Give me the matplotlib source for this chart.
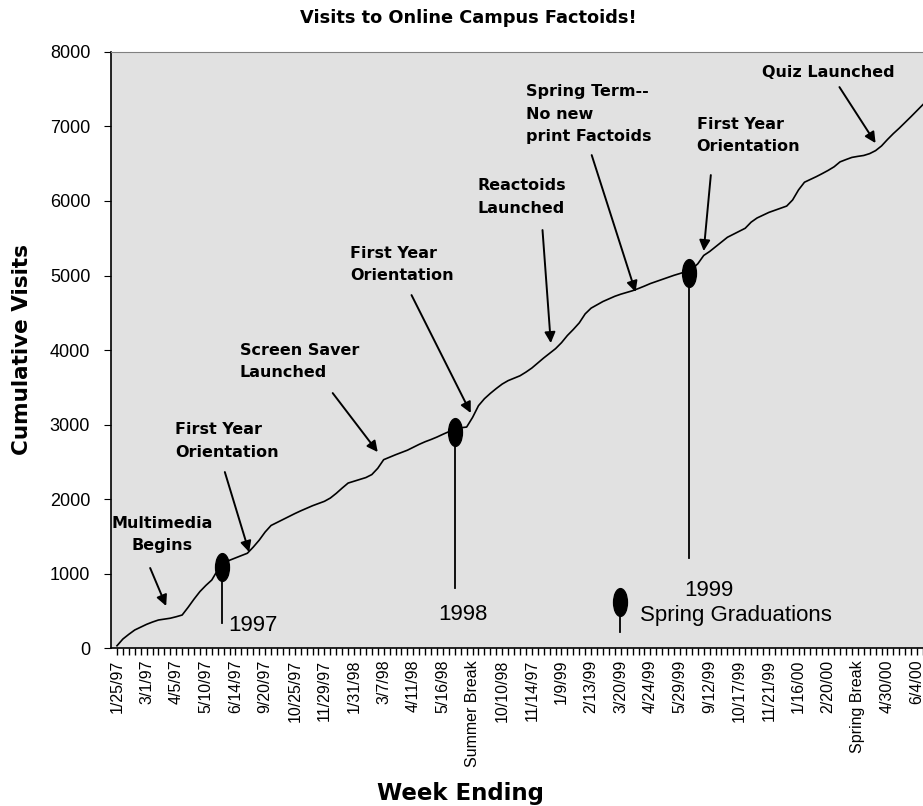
import numpy as np
import matplotlib
matplotlib.use("Agg")
import matplotlib.pyplot as plt
from matplotlib.path import Path
from matplotlib.transforms import Affine2D

# weekly cumulative visits (one value per plotted week)
visits = [30, 121, 184, 242, 280, 318, 349, 376, 388, 400,
          420, 443, 546, 656, 758, 840, 913, 1047, 1143, 1178,
          1210, 1241, 1272, 1355, 1448, 1557, 1645, 1685, 1724, 1765,
          1804, 1841, 1876, 1910, 1939, 1969, 2013, 2076, 2147, 2214,
          2239, 2263, 2288, 2328, 2412, 2528, 2561, 2594, 2625, 2655,
          2694, 2734, 2769, 2799, 2832, 2869, 2904, 2942, 2956, 2966,
          3095, 3253, 3346, 3418, 3483, 3543, 3589, 3621, 3654, 3703,
          3758, 3826, 3893, 3956, 4018, 4098, 4195, 4276, 4364, 4485,
          4562, 4607, 4651, 4686, 4721, 4749, 4772, 4796, 4826, 4858,
          4892, 4920, 4948, 4976, 5003, 5027, 5053, 5085, 5157, 5269,
          5322, 5386, 5450, 5513, 5553, 5594, 5634, 5716, 5772, 5810,
          5847, 5875, 5903, 5932, 6014, 6149, 6252, 6290, 6327, 6368,
          6411, 6459, 6525, 6556, 6585, 6599, 6611, 6636, 6676, 6739,
          6825, 6905, 6978, 7055, 7134, 7215, 7295]

# every fifth week is labelled
tick_labels = ['1/25/97', '3/1/97', '4/5/97', '5/10/97', '6/14/97', '9/20/97',
               '10/25/97', '11/29/97', '1/31/98', '3/7/98', '4/11/98', '5/16/98',
               'Summer Break', '10/10/98', '11/14/97', '1/9/99', '2/13/99',
               '3/20/99', '4/24/99', '5/29/99', '9/12/99', '10/17/99',
               '11/21/99', '1/16/00', '2/20/00', 'Spring Break', '4/30/00',
               '6/4/00']

# event annotations: text, text anchor (week, visits), alignment, arrow tail, arrow tip
events = ['Multimedia\nBegins', 'First Year\nOrientation', 'Screen Saver\nLaunched',
          'First Year\nOrientation', 'Reactoids\nLaunched',
          'Spring Term--\nNo new\nprint Factoids', 'First Year\nOrientation',
          'Quiz Launched']
event_text_pos = [(7.6, 1523), (9.8, 2778), (20.7, 3845), (39.3, 5147),
                  (60.9, 6052), (69.0, 7166), (97.8, 6878), (108.8, 7730)]
event_ha = ['center', 'left', 'left', 'left', 'left', 'left', 'left', 'left']
arrow_tail = [(5.6, 1074), (18.2, 2362), (36.4, 3422), (49.7, 4737),
              (71.8, 5610), (80.1, 6616), (100.2, 6348), (121.9, 7529)]
arrow_tip = [(8.3, 564), (22.3, 1288), (44.0, 2630), (59.7, 3154),
             (73.2, 4093), (87.5, 4778), (99.0, 5328), (128.0, 6777)]

# spring graduations
grad_years = ['1997', '1998', '1999']
grad_week = [17.7, 57.0, 96.6]
grad_visits = [1087, 2899, 5030]
grad_line_bottom = [336, 805, 1208]
grad_text_pos = [(18.7, 309), (58.3, 456), (99.8, 778)]
grad_text_ha = ['left', 'center', 'center']

fig = plt.figure(figsize=(9.23, 8.06), dpi=100)
ax = fig.add_axes([0.1203, 0.196, 0.8797, 0.7395])
ax.set_facecolor('#e1e1e1')

weeks = np.arange(len(visits))
ax.plot(weeks, visits, color='black', lw=1.2)

oval = Path.unit_circle().transformed(Affine2D().scale(0.5, 1.0))

for wk, v, bot in zip(grad_week, grad_visits, grad_line_bottom):
    ax.plot([wk, wk], [bot, v], color='black', lw=1.3)
    ax.plot(wk, v, marker=oval, markersize=20, color='black')

for yr, (tx, ty), ha in zip(grad_years, grad_text_pos, grad_text_ha):
    ax.text(tx, ty, yr, ha=ha, va='center', fontsize=16,
            family='Liberation Sans')

# legend-like key for the graduation marker
ax.plot([84.8, 84.8], [215, 617], color='black', lw=1.3)
ax.plot(84.8, 617, marker=oval, markersize=20, color='black')
ax.text(88.2, 443, 'Spring Graduations', ha='left', va='center', fontsize=16,
        family='Liberation Sans')

for txt, (tx, ty), ha, tail, tip in zip(events, event_text_pos, event_ha,
                                        arrow_tail, arrow_tip):
    ax.text(tx, ty, txt, ha=ha, va='center', multialignment=ha,
            fontsize=11.5, fontweight='bold', family='DejaVu Sans',
            linespacing=1.65)
    ax.annotate('', xy=tip, xytext=tail,
                arrowprops=dict(arrowstyle='-|>', color='black', lw=1.4,
                                mutation_scale=16, shrinkA=0, shrinkB=0))

ax.set_xlim(-1, 135.9)
ax.set_ylim(0, 8000)
ax.set_yticks(range(0, 8001, 1000))
ax.tick_params(axis='y', labelsize=13, length=5, direction='out', pad=10)
ax.set_xticks(range(0, 5 * len(tick_labels), 5))
ax.set_xticklabels(tick_labels, rotation=90, fontsize=11.5,
                   family='Liberation Sans')
ax.set_xticks(weeks, minor=True)
ax.tick_params(axis='x', which='both', length=5, direction='out', width=1)

for lbl in ax.get_yticklabels():
    lbl.set_family('Liberation Sans')

ax.spines['right'].set_visible(False)
ax.spines['top'].set_color('#808080')
ax.spines['left'].set_linewidth(1.2)
ax.spines['bottom'].set_linewidth(1.2)

fig.text(0.507, 0.978, 'Visits to Online Campus Factoids!', ha='center',
         va='center', fontsize=12.8, fontweight='bold', family='DejaVu Sans')
fig.text(0.024, 0.566, 'Cumulative Visits', rotation=90, ha='center',
         va='center', fontsize=15.5, fontweight='bold', family='DejaVu Sans')
fig.text(0.499, 0.016, 'Week Ending', ha='center', va='center', fontsize=16.5,
         fontweight='bold', family='DejaVu Sans')

fig.savefig('out.png', dpi=100)
